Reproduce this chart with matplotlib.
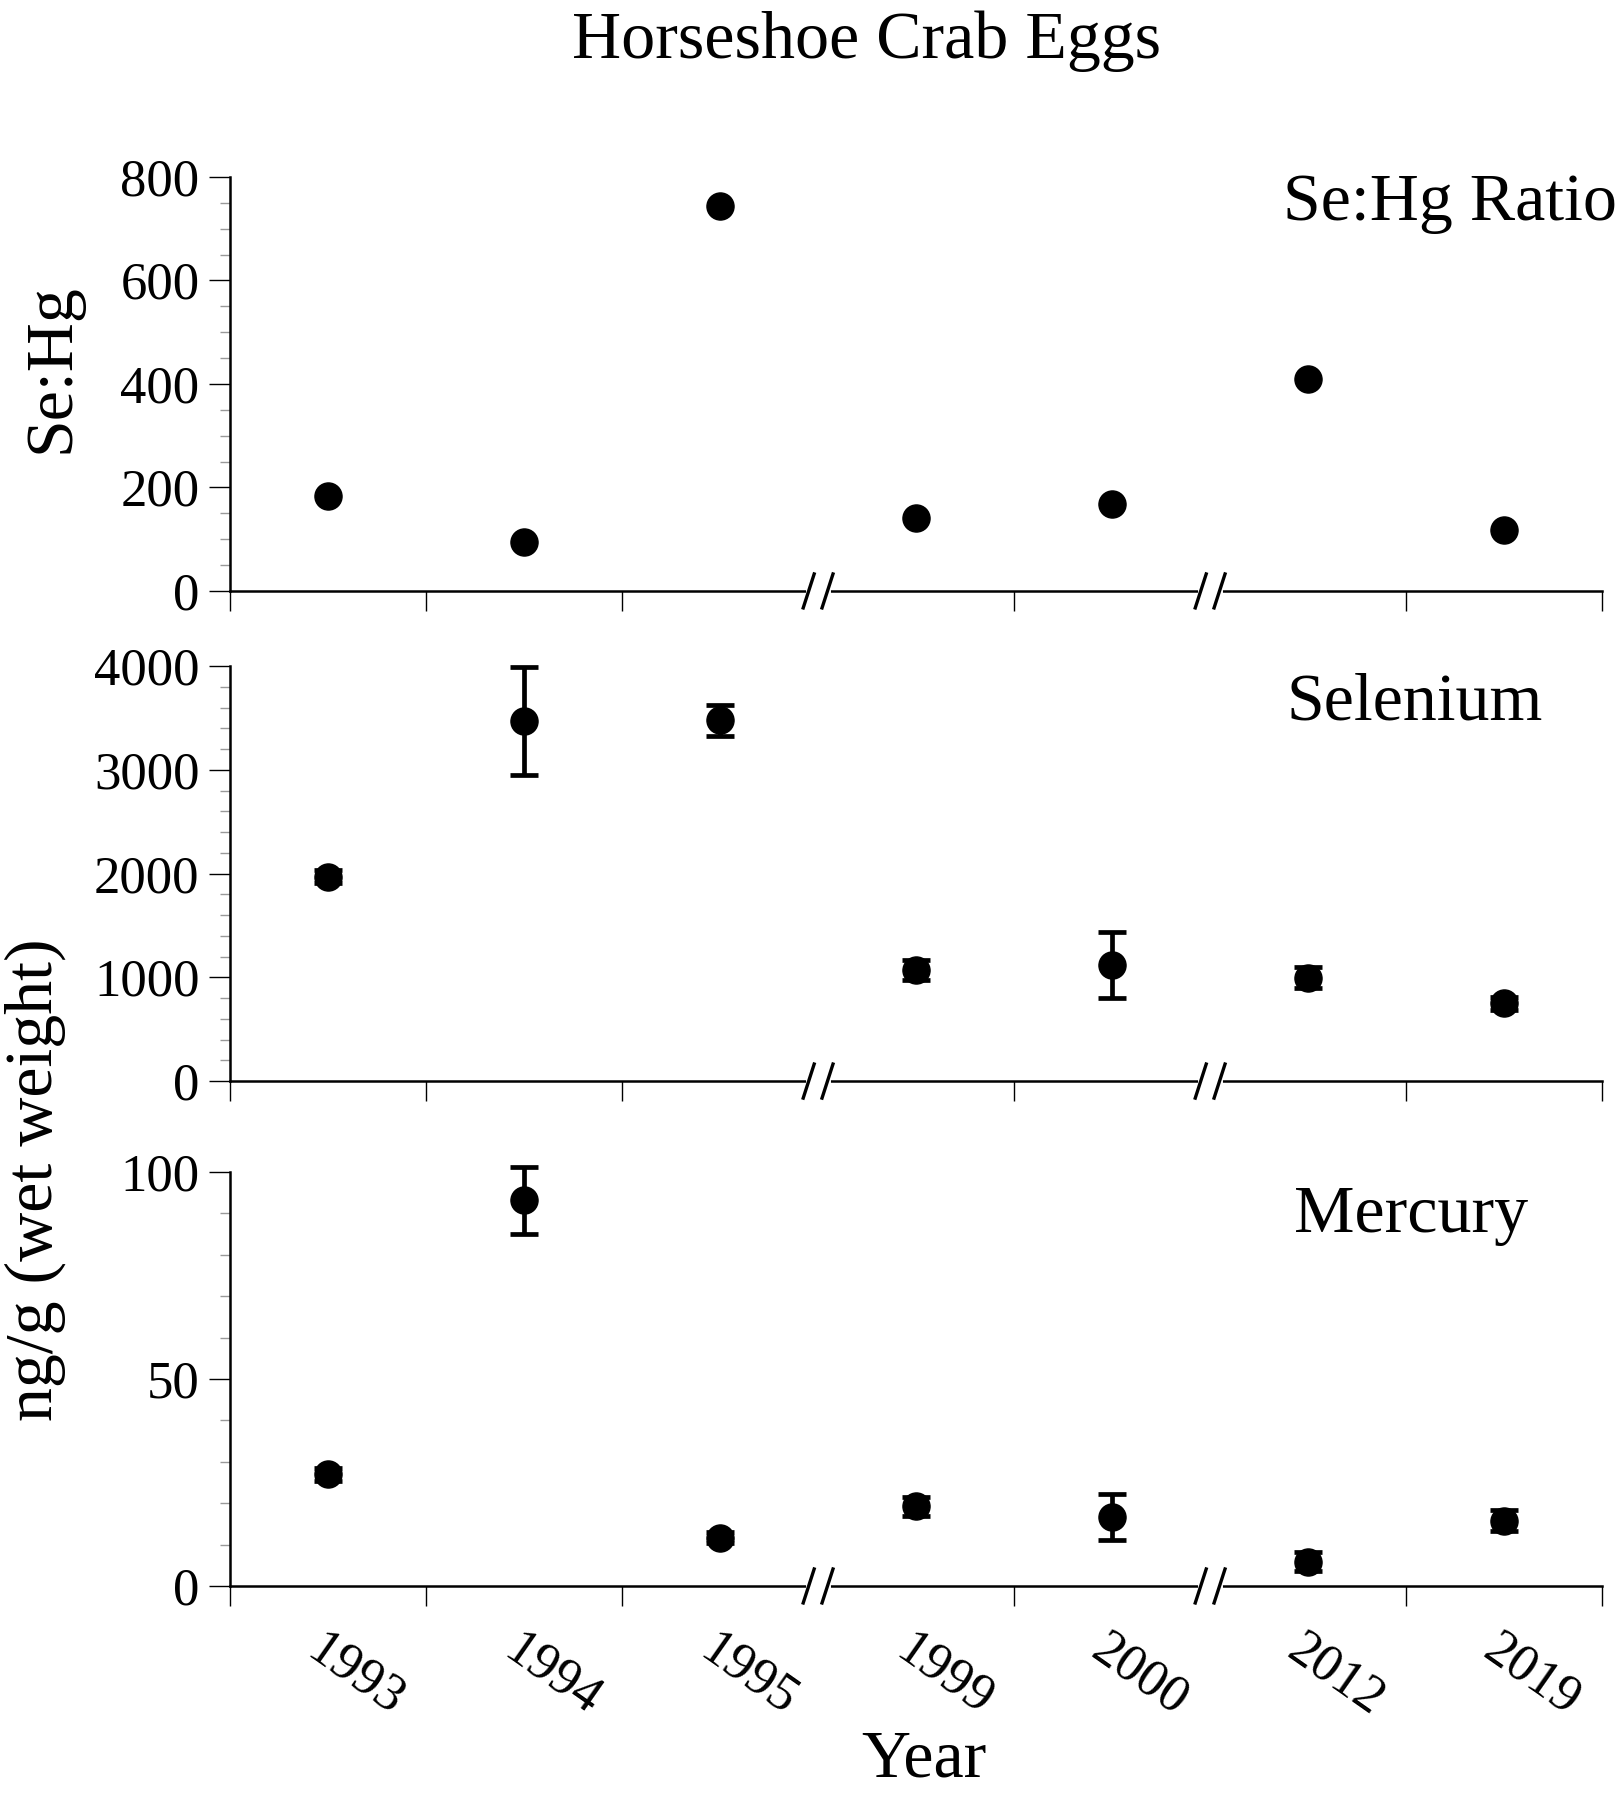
import numpy as np
import matplotlib
matplotlib.use('Agg')
import matplotlib.pyplot as plt
from matplotlib.ticker import MultipleLocator, FixedLocator, NullFormatter
from matplotlib.transforms import blended_transform_factory, ScaledTranslation

plt.rcParams['font.family'] = ['Liberation Serif', 'DejaVu Serif']

# Datos
years = ['1993', '1994', '1995', '1999', '2000', '2012', '2019']
sehg_ratio = [184, 95, 744, 140, 168, 409, 118]
selenium_mean = [1970, 3470, 3475, 1070, 1118, 998, 750]
selenium_err = [65, 525, 145, 100, 320, 105, 65]
mercury_mean = [27.0, 93.2, 11.7, 19.2, 16.6, 5.9, 15.8]
mercury_err = [1.6, 8.1, 1.4, 2.4, 5.6, 2.4, 2.6]

# cortes del eje x (entre 1995/1999 y 2000/2012)
breaks = [3, 5]

x = np.arange(len(years)) + 0.5
major_x = [i for i in range(len(years) + 1) if i not in breaks]

fig = plt.figure(figsize=(16.2, 18), dpi=100)
left, width = 0.142, 0.847
ax1 = fig.add_axes([left, 0.6717, width, 0.2300])
ax2 = fig.add_axes([left, 0.3994, width, 0.2306])
ax3 = fig.add_axes([left, 0.1189, width, 0.2300])

ax1.plot(x, sehg_ratio, 'o', color='black', ms=19.5, clip_on=False, zorder=6)
for ax, mean, err in [(ax2, selenium_mean, selenium_err), (ax3, mercury_mean, mercury_err)]:
    ax.errorbar(x, mean, yerr=err, fmt='o', color='black', ms=19.5,
                elinewidth=3.4, capsize=10, capthick=3.4, clip_on=False, zorder=6)

settings = [
    (ax1, 800, 200, 50, 'Se:Hg Ratio'),
    (ax2, 4000, 1000, 200, 'Selenium'),
    (ax3, 100, 50, 10, 'Mercury'),
]

for ax, ymax, major, minor, _ in settings:
    ax.set_xlim(0, len(years))
    ax.set_ylim(0, ymax)
    for s in ['top', 'right']:
        ax.spines[s].set_visible(False)
    for s in ['left', 'bottom']:
        ax.spines[s].set_linewidth(1.8)
    ax.yaxis.set_major_locator(MultipleLocator(major))
    ax.yaxis.set_minor_locator(MultipleLocator(minor))
    ax.tick_params(axis='y', which='major', direction='out', length=15, width=1.0,
                   labelsize=38, pad=7)
    ax.tick_params(axis='y', which='minor', direction='out', length=7, width=1.0,
                   color='#999999')
    ax.xaxis.set_major_locator(FixedLocator(major_x))
    ax.xaxis.set_major_formatter(NullFormatter())
    ax.set_xticks(x, minor=True)
    ax.tick_params(axis='x', which='major', direction='out', length=14.5, width=1.0)
    ax.tick_params(axis='x', which='minor', length=0)

    # marcas de corte //
    tr = blended_transform_factory(ax.transData, ax.transAxes)
    for b in breaks:
        ax.plot([b - 0.045, b + 0.045], [0, 0], color='white', lw=5,
                transform=tr, clip_on=False, zorder=7)
        for off in (-0.048, 0.048):
            ax.plot([b + off - 0.028, b + off + 0.028], [-0.041, 0.041],
                    color='black', lw=2.4, transform=tr, clip_on=False, zorder=8)

ax1.set_xticklabels([], minor=True)
ax2.set_xticklabels([], minor=True)
ax3.set_xticklabels(years, minor=True, rotation=-35, ha='center', va='top', fontsize=38)
ax3.tick_params(axis='x', which='minor', pad=28)
shift = ScaledTranslation(20 / 72, 0, fig.dpi_scale_trans)
for lab in ax3.get_xticklabels(minor=True):
    lab.set_transform(lab.get_transform() + shift)

# etiquetas de cada panel
fig.text(0.792, 0.8778, 'Se:Hg Ratio', fontsize=49, ha='left', va='baseline')
fig.text(0.794, 0.6000, 'Selenium', fontsize=49, ha='left', va='baseline')
fig.text(0.799, 0.3156, 'Mercury', fontsize=49, ha='left', va='baseline')

fig.text(0.535, 0.968, 'Horseshoe Crab Eggs', fontsize=49, ha='center', va='baseline')
fig.text(0.570, 0.013, 'Year', fontsize=49, ha='center', va='baseline')
fig.text(0.032, 0.7956, 'Se:Hg', fontsize=49, rotation=90, ha='center', va='center')
fig.text(0.022, 0.3444, 'ng/g (wet weight)', fontsize=49, rotation=90, ha='center', va='center')

fig.savefig('out.png', dpi=100, facecolor='white')
plt.close(fig)
